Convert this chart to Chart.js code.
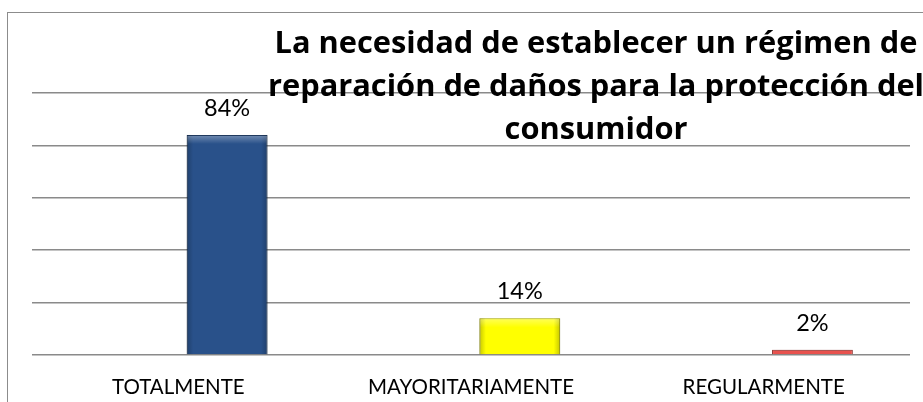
<!DOCTYPE html>
<html>
<head>
<meta charset="utf-8">
<script src="https://cdn.jsdelivr.net/npm/chart.js@4.4.1/dist/chart.umd.min.js"></script>
<style>
  html, body { margin: 0; padding: 0; background: #ffffff; overflow: hidden; }
  #wrap { position: relative; width: 923px; height: 402px; }
  #frame { position: absolute; left: 7px; top: 12px; width: 940px; height: 420px;
           border-left: 1.5px solid #8c8c8c; border-top: 1.5px solid #8c8c8c; }
  canvas { position: absolute; left: 0; top: 0; }
</style>
</head>
<body>
<div id="wrap">
  <div id="frame"></div>
  <canvas id="c" width="923" height="402"></canvas>
</div>
<script>
// ---- data ----
const categories = ['TOTALMENTE', 'MAYORITARIAMENTE', 'REGULARMENTE'];
const values = [0.84, 0.14, 0.02];
const valueLabels = ['84%', '14%', '2%'];
const titleLines = [
  'La necesidad de establecer un régimen de',
  'reparación de daños para la protección del',
  'consumidor'
];
const yTicks = [0, 0.2, 0.4, 0.6, 0.8, 1.0];

const barColors = ['#29518A', '#FFFF00', '#E8524E'];
const barBorders = ['#1E3C66', '#C8C800', '#8E2A27'];

const shadowPlugin = {
  id: 'barShadow',
  beforeDatasetsDraw(chart) {
    const ctx = chart.ctx;
    ctx.save();
    ctx.shadowColor = 'rgba(0,0,0,0.25)';
    ctx.shadowBlur = 6;
    ctx.shadowOffsetX = 0;
    ctx.shadowOffsetY = 0;
  },
  afterDatasetsDraw(chart) {
    chart.ctx.restore();
  }
};

const labelPlugin = {
  id: 'valueLabels',
  afterDatasetsDraw(chart) {
    const ctx = chart.ctx;
    const meta = chart.getDatasetMeta(0);
    // bevel overlay
    meta.data.forEach((bar) => {
      const p = bar.getProps(['x', 'y', 'base', 'width'], true);
      const l = p.x - p.width / 2, w = p.width, t = p.y, h = p.base - p.y;
      if (h < 8) return;
      ctx.save();
      const gh = ctx.createLinearGradient(l, 0, l + w, 0);
      gh.addColorStop(0, 'rgba(0,0,0,0.22)');
      gh.addColorStop(0.08, 'rgba(0,0,0,0)');
      gh.addColorStop(0.92, 'rgba(0,0,0,0)');
      gh.addColorStop(1, 'rgba(0,0,0,0.22)');
      ctx.fillStyle = gh;
      ctx.fillRect(l, t, w, h);
      const gv = ctx.createLinearGradient(0, t, 0, t + 9);
      gv.addColorStop(0, 'rgba(255,255,255,0.35)');
      gv.addColorStop(1, 'rgba(255,255,255,0)');
      ctx.fillStyle = gv;
      ctx.fillRect(l + 1, t + 1, w - 2, 9);
      ctx.restore();
    });
    ctx.save();
    ctx.font = '23.5px Lato';
    ctx.fillStyle = '#000000';
    ctx.textAlign = 'center';
    ctx.textBaseline = 'alphabetic';
    meta.data.forEach((bar, i) => {
      ctx.fillText(valueLabels[i], bar.x, bar.y - 19);
    });
    ctx.restore();
  }
};

const titlePlugin = {
  id: 'overTitle',
  afterDraw(chart) {
    const ctx = chart.ctx;
    ctx.save();
    ctx.font = 'bold 30.8px "Open Sans"';
    ctx.fillStyle = '#000000';
    ctx.textAlign = 'center';
    ctx.textBaseline = 'alphabetic';
    const cx = 596;
    const base = [53, 96, 139];
    titleLines.forEach((t, i) => ctx.fillText(t, cx, base[i]));
    ctx.restore();
  }
};

const labelShift = -1 / 6;

new Chart(document.getElementById('c'), {
  type: 'bar',
  data: {
    datasets: [{
      data: values.map((v, i) => ({ x: i, y: v })),
      backgroundColor: barColors,
      borderColor: barBorders,
      borderWidth: 1,
      categoryPercentage: 1,
      barPercentage: 0.276
    }]
  },
  options: {
    responsive: false,
    animation: false,
    devicePixelRatio: 1,
    layout: { padding: { left: 32, right: 13, top: 93, bottom: 0 } },
    plugins: {
      legend: { display: false },
      title: { display: false },
      tooltip: { enabled: false }
    },
    scales: {
      x: {
        type: 'linear',
        offset: false,
        min: -2 / 3,
        max: 7 / 3,
        afterBuildTicks: (s) => { s.ticks = categories.map((c, i) => ({ value: i + labelShift })); },
        afterFit: (s) => { s.height = 47; },
        grid: { display: false, drawTicks: false },
        border: { display: false },
        ticks: {
          padding: 20,
          autoSkip: false,
          maxRotation: 0,
          color: '#000000',
          font: { family: 'Lato', size: 20.5 },
          callback: (v) => categories[Math.round(v - labelShift)] ?? ''
        }
      },
      y: {
        min: 0,
        max: 1,
        afterBuildTicks: (s) => { s.ticks = yTicks.map(v => ({ value: v })); },
        afterFit: (s) => { s.width = 0; },
        grid: { color: '#8a8a8a', lineWidth: 1.5, drawTicks: false },
        border: { display: false },
        ticks: { display: false }
      }
    }
  },
  plugins: [shadowPlugin, labelPlugin, titlePlugin]
});
</script>
</body>
</html>
